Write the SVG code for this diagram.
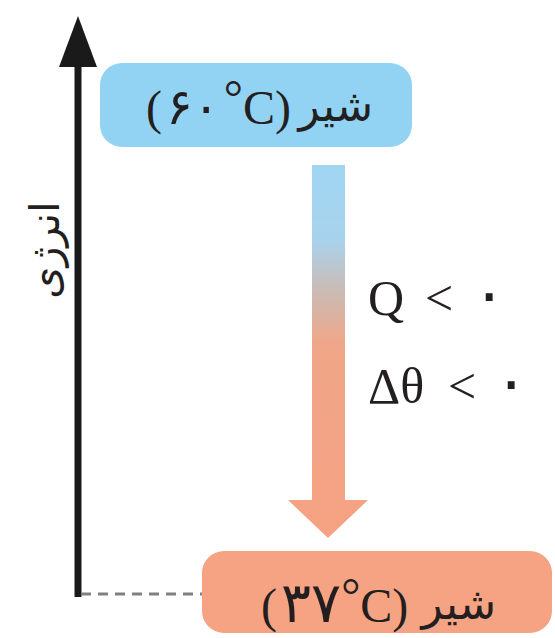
<svg xmlns="http://www.w3.org/2000/svg" width="555" height="638" viewBox="0 0 555 638">
<defs>
<style>
.t{font-family:"Liberation Serif","DejaVu Sans",serif;fill:#231f20}
.fa{font-family:"DejaVu Sans","Noto Sans",sans-serif;fill:#231f20}
.d{font-family:"DejaVu Sans",sans-serif}
.lt{direction:ltr;unicode-bidi:bidi-override}
</style>
<linearGradient id="g" gradientUnits="userSpaceOnUse" x1="0" y1="165" x2="0" y2="540">
<stop offset="0" stop-color="#9fd6f3"/>
<stop offset="0.2" stop-color="#a8d2ec"/>
<stop offset="0.33" stop-color="#c9bcb6"/>
<stop offset="0.48" stop-color="#f0a688"/>
<stop offset="1" stop-color="#f6a283"/>
</linearGradient>
</defs>
<rect width="555" height="638" fill="#ffffff"/>
<g id="connectors">
<line x1="78" y1="60" x2="78" y2="597" stroke="#1a1a1a" stroke-width="7"/>
<polygon points="78,16 59,67 97,67" fill="#1a1a1a"/>
<line x1="81" y1="594" x2="202" y2="594" stroke="#808080" stroke-width="3" stroke-dasharray="10,7"/>
<path d="M312,165 H345 V500 H368 L328,538 L288,500 H312 Z" fill="url(#g)"/>
</g>
<g id="axis-label">
<text class="fa" font-size="41" text-anchor="middle" transform="translate(59,250) rotate(-90)">انرژی</text>
</g>
<g id="node-top">
<rect x="100" y="63" width="312" height="84" rx="22" fill="#92d3f3"/>
<text class="t lt" font-size="48" x="146" y="124">(<tspan class="d" font-size="50" dx="4">۶۰</tspan><tspan dx="4" dy="-10">°</tspan><tspan dy="10">C</tspan>)</text>
<text class="fa" font-size="44" x="373" y="121" text-anchor="end">شیر</text>
</g>
<g id="node-bottom">
<rect x="202" y="551" width="350" height="82" rx="22" fill="#f6a384"/>
<text class="t lt" font-size="48" x="261" y="622">(<tspan class="d" font-size="56" dx="4">۳۷</tspan><tspan dy="-10">°</tspan><tspan dy="10">C</tspan>)</text>
<text class="fa" font-size="44" x="496" y="619" text-anchor="end">شیر</text>
</g>
<g id="labels">
<text class="t lt" font-size="50" x="368" y="315">Q <tspan x="425">&lt;</tspan><tspan class="d" font-size="64" x="472">۰</tspan></text>
<text class="t lt" font-size="50" x="368" y="403">Δθ <tspan x="448">&lt;</tspan><tspan class="d" font-size="64" x="494">۰</tspan></text>
</g>
</svg>
